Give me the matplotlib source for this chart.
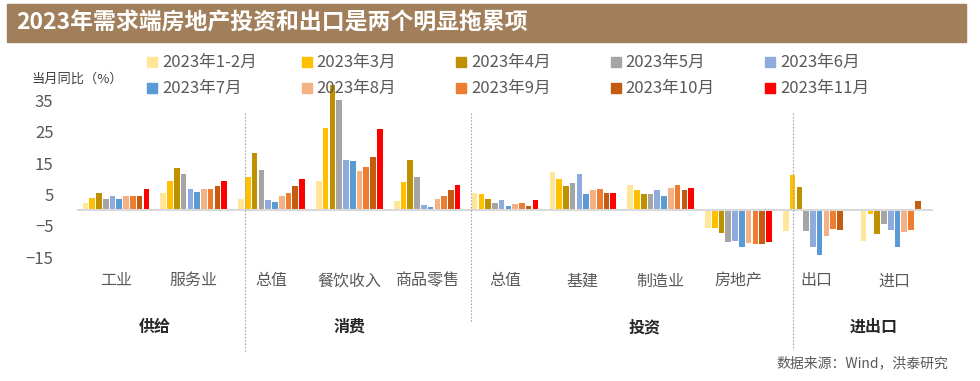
import numpy as np
import matplotlib.pyplot as plt
import matplotlib.transforms as mtransforms
from matplotlib.patches import Rectangle
from matplotlib.lines import Line2D

plt.rcParams['font.family'] = ['Noto Sans CJK SC', 'DejaVu Sans']

categories = ['工业', '服务业', '总值', '餐饮收入', '商品零售', '总值', '基建', '制造业', '房地产', '出口', '进口']
months = ['2023年1-2月', '2023年3月', '2023年4月', '2023年5月', '2023年6月',
          '2023年7月', '2023年8月', '2023年9月', '2023年10月', '2023年11月']
colors = ['#FFE699', '#FFC000', '#BF9000', '#A5A5A5', '#8FAADC',
          '#5B9BD5', '#F4B183', '#ED7D31', '#C55A11', '#FF0000']

# 当月同比 (%), one row per category, one column per month
industry = [2.4, 3.9, 5.6, 3.5, 4.4, 3.7, 4.5, 4.5, 4.6, 6.6]
services = [5.5, 9.2, 13.5, 11.7, 6.8, 5.7, 6.8, 6.9, 7.7, 9.3]
retail_total = [3.5, 10.6, 18.4, 12.7, 3.1, 2.5, 4.6, 5.5, 7.6, 10.1]
catering = [9.2, 26.3, 43.8, 35.1, 16.1, 15.8, 12.4, 13.8, 17.1, 25.8]
goods_retail = [2.9, 9.1, 15.9, 10.5, 1.7, 1.0, 3.7, 4.6, 6.5, 8.0]
fai_total = [5.6, 5.0, 3.7, 2.4, 3.3, 1.4, 1.8, 2.4, 1.4, 3.1]
infra = [12.2, 10.0, 7.8, 8.8, 11.6, 5.3, 6.3, 6.9, 5.6, 5.6]
manuf = [8.1, 6.3, 5.3, 5.3, 6.3, 4.4, 7.2, 7.9, 6.3, 7.2]
property_inv = [-5.7, -5.7, -7.2, -10.3, -9.9, -11.9, -10.6, -11.0, -11.0, -10.3]
exports = [-6.8, 11.3, 7.5, -6.8, -11.9, -14.3, -8.4, -5.9, -6.3, 0.5]
imports = [-10.0, -1.4, -7.8, -4.3, -6.5, -11.9, -7.1, -6.3, 3.0, -0.4]

groups = ['供给', '消费', '投资', '进出口']
group_pos = [0.5, 3.0, 6.79, 9.74]

data = np.array([industry, services, retail_total, catering, goods_retail,
                 fai_total, infra, manuf, property_inv, exports, imports])

W, H = 980, 381
fig = plt.figure(figsize=(W / 100, H / 100), dpi=100)

def fx(px):
    return px / W

def fy(py):
    return 1 - py / H

# title band
fig.add_artist(Rectangle((fx(7), fy(42)), fx(966) - fx(7), fy(4) - fy(42),
                         transform=fig.transFigure, color='#A17F5B', zorder=0))
fig.text(fx(16), fy(23), '2023年需求端房地产投资和出口是两个明显拖累项',
         color='white', fontsize=16.5, fontweight='bold', va='center', ha='left')

ax = fig.add_axes([fx(77), fy(257), fx(933) - fx(77), fy(85) - fy(257)])
x = np.arange(len(categories))
slot = 0.087
bw = 0.072
for i in range(len(months)):
    off = (i - 4.5) * slot
    ax.bar(x + off, data[:, i], width=bw, color=colors[i], zorder=2)

ax.set_xlim(-0.5, len(categories) - 0.5)
ax.set_ylim(-15, 40)
ax.set_yticks([-15, -5, 5, 15, 25, 35])
ax.axhline(0, color='#D9D9D9', lw=1.5, zorder=3)
for s in ax.spines.values():
    s.set_visible(False)
ax.tick_params(axis='y', length=0, pad=17, labelsize=12, labelcolor='#595959')
ax.set_xticks(x)
ax.set_xticklabels(categories)
ax.tick_params(axis='x', length=0, pad=11, labelsize=11.5, labelcolor='#595959')

# group labels
trans = mtransforms.blended_transform_factory(ax.transData, fig.transFigure)
for g, p in zip(groups, group_pos):
    ax.text(p, fy(327), g, transform=trans, ha='center', va='center',
            fontsize=11.5, fontweight='bold', color='#262626')

# dotted separators
for px, bottom in [(245, 352), (471, 322), (793, 350)]:
    fig.add_artist(Line2D([fx(px), fx(px)], [fy(113), fy(bottom)], transform=fig.transFigure,
                          color='#A6A6A6', lw=0.8, ls=(0, (1.5, 1.5)), zorder=5))

# legend (Excel-like grid, row by row)
for i, (m, c) in enumerate(zip(months, colors)):
    r, col = divmod(i, 5)
    lx = 147 + col * 154.5
    ly = 62 + r * 26
    fig.add_artist(Rectangle((fx(lx), fy(ly + 5)), fx(10), 10 / H,
                             transform=fig.transFigure, color=c))
    fig.text(fx(lx + 15), fy(ly), m, fontsize=12, color='#595959', va='center', ha='left')

fig.text(fx(31), fy(79), '当月同比（%）', fontsize=9.5, color='#404040', va='center', ha='left')
fig.text(fx(948), fy(363), '数据来源：Wind，洪泰研究', fontsize=10, color='#595959',
         va='center', ha='right')

fig.savefig('out.png', dpi=100)
